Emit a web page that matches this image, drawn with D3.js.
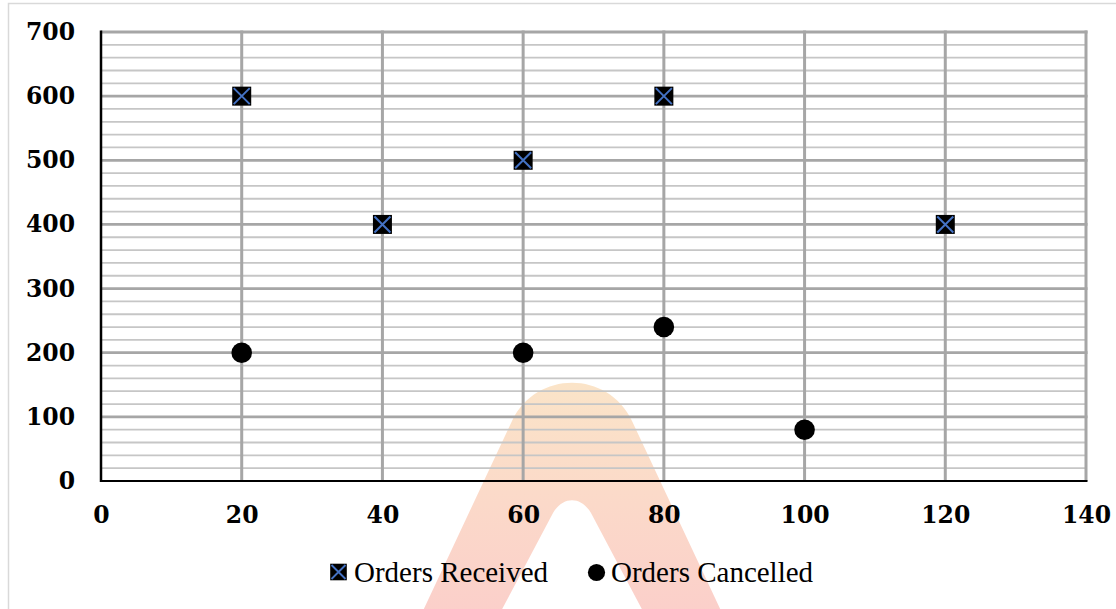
<!DOCTYPE html>
<html><head><meta charset="utf-8">
<script src="https://cdn.jsdelivr.net/npm/d3@7/dist/d3.min.js"></script>
<style>html,body{margin:0;padding:0;background:#fff;}svg{display:block;}</style>
</head><body>
<script>
const receivedX = [20, 40, 60, 80, 120];
const receivedY = [600, 400, 500, 600, 400];
const cancelledX = [20, 60, 80, 100];
const cancelledY = [200, 200, 240, 80];
const xTicks = [0, 20, 40, 60, 80, 100, 120, 140];
const yTicks = [0, 100, 200, 300, 400, 500, 600, 700];
const yMinorTicks = d3.range(0, 701, 20);
const seriesNames = ["Orders Received", "Orders Cancelled"];

const W = 1116, H = 609;
const svg = d3.select("body").append("svg").attr("width", W).attr("height", H);
const x = d3.scaleLinear().domain([0, 140]).range([101, 1086]);
const y = d3.scaleLinear().domain([0, 700]).range([481, 32]);

// chart frame
svg.append("rect").attr("x", 8.5).attr("y", 3.5).attr("width", W + 10).attr("height", H + 10)
  .attr("fill", "#fff").attr("stroke", "#d9d9d9").attr("stroke-width", 1.5);

// watermark
const defs = svg.append("defs");
const grad = defs.append("linearGradient").attr("id", "wm").attr("x1", 0).attr("y1", 0).attr("x2", 0).attr("y2", 1);
grad.append("stop").attr("offset", "0%").attr("stop-color", "#fbe4c8");
grad.append("stop").attr("offset", "100%").attr("stop-color", "#fbcfca");
svg.append("path")
  .attr("d", "M421,615 L512,421 C536,370 608,370 632,421 L723,615 L645,615 L591,513 C581,496 563,496 553,513 L499,615 Z")
  .attr("fill", "url(#wm)");

const g = svg.append("g");
// minor horizontal gridlines
g.selectAll("line.minor").data(yMinorTicks.filter(v => v % 100 !== 0)).join("line")
  .attr("x1", x(0)).attr("x2", x(140)).attr("y1", d => y(d)).attr("y2", d => y(d))
  .attr("stroke", "#c6c6c6").attr("stroke-width", 1.8);
// major horizontal gridlines
g.selectAll("line.hmaj").data(yTicks.filter(v => v > 0)).join("line")
  .attr("x1", x(0)).attr("x2", x(140) + 1.5).attr("y1", d => y(d)).attr("y2", d => y(d))
  .attr("stroke", "#a6a6a6").attr("stroke-width", 2.8);
// major vertical gridlines
g.selectAll("line.vmaj").data(xTicks.filter(v => v > 0)).join("line")
  .attr("x1", d => x(d)).attr("x2", d => x(d)).attr("y1", y(700) - 1.4).attr("y2", y(0))
  .attr("stroke", "#a6a6a6").attr("stroke-width", 3);

// axes lines
svg.append("line").attr("x1", x(0)).attr("x2", x(0)).attr("y1", y(700) - 1.4).attr("y2", y(0) + 1)
  .attr("stroke", "#000").attr("stroke-width", 2.5);
svg.append("line").attr("x1", x(0) - 1).attr("x2", x(140) + 1.5).attr("y1", y(0)).attr("y2", y(0))
  .attr("stroke", "#000").attr("stroke-width", 2.2);

// tick labels via axes
const yAxis = svg.append("g").attr("transform", `translate(${x(0) - 26},0)`)
  .call(d3.axisLeft(y).tickValues(yTicks).tickSize(0).tickPadding(0).tickFormat(d3.format("d")));
const xAxis = svg.append("g").attr("transform", `translate(0,${y(0) + 25})`)
  .call(d3.axisBottom(x).tickValues(xTicks).tickSize(0).tickPadding(0).tickFormat(d3.format("d")));
[yAxis, xAxis].forEach(a => {
  a.select(".domain").remove();
  a.selectAll("text").attr("font-family", "'DejaVu Serif', serif").attr("font-weight", "bold")
    .attr("font-size", 23.5).attr("fill", "#000");
});
xAxis.selectAll("text").attr("dy", "0.71em");

// markers: cancelled circles
svg.append("g").selectAll("circle").data(cancelledX.map((d, i) => [d, cancelledY[i]])).join("circle")
  .attr("cx", d => x(d[0])).attr("cy", d => y(d[1])).attr("r", 10.3).attr("fill", "#000");

// markers: received squares with X
const s = 9.5;
const rec = svg.append("g").selectAll("g").data(receivedX.map((d, i) => [d, receivedY[i]])).join("g")
  .attr("transform", d => `translate(${x(d[0])},${y(d[1])})`);
rec.append("rect").attr("x", -s).attr("y", -s).attr("width", 2 * s).attr("height", 2 * s).attr("fill", "#000");
rec.append("path").attr("d", `M${-s + 1.5},${-s + 1.5}L${s - 1.5},${s - 1.5}M${s - 1.5},${-s + 1.5}L${-s + 1.5},${s - 1.5}`)
  .attr("stroke", "#4472c4").attr("stroke-width", 2);

// legend
const lg = svg.append("g").attr("font-family", "'Liberation Serif', 'Times New Roman', serif").attr("font-size", 29).attr("fill", "#000");
const ls = 8.3;
const l1 = lg.append("g").attr("transform", "translate(338.5,572)");
l1.append("rect").attr("x", -ls).attr("y", -ls).attr("width", 2 * ls).attr("height", 2 * ls).attr("fill", "#000");
l1.append("path").attr("d", `M${-ls + 1.3},${-ls + 1.3}L${ls - 1.3},${ls - 1.3}M${ls - 1.3},${-ls + 1.3}L${-ls + 1.3},${ls - 1.3}`)
  .attr("stroke", "#4472c4").attr("stroke-width", 1.9);
lg.append("text").attr("x", 354).attr("y", 582).text(seriesNames[0]);
lg.append("circle").attr("cx", 596.5).attr("cy", 572.5).attr("r", 8.6).attr("fill", "#000");
lg.append("text").attr("x", 611).attr("y", 582).text(seriesNames[1]);
</script>
</body></html>
